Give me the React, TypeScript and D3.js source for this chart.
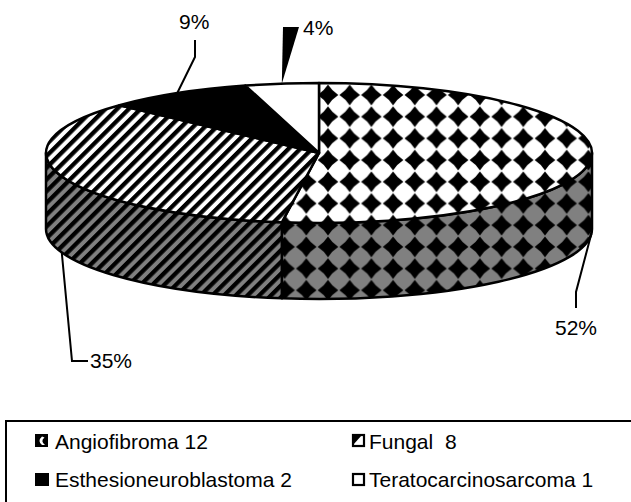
import React from 'react';
import * as d3 from 'd3';

// ---- data ----
const categories = ['Angiofibroma', 'Fungal', 'Esthesioneuroblastoma', 'Teratocarcinosarcoma'];
const counts = [12, 8, 2, 1];
const legendLabels = ['Angiofibroma 12', 'Fungal  8', 'Esthesioneuroblastoma 2', 'Teratocarcinosarcoma 1'];

// ---- layout ----
const W = 631;
const H = 502;
const CX = 319;
const CY = 153;
const RX = 273;
const RY = 70;
const DEPTH = 76;
const FONT = "'Liberation Sans', Arial, sans-serif";

const topFills = ['url(#diamondTop)', 'url(#stripeTop)', '#000', '#fff'];
const sideFills = ['url(#diamondSide)', 'url(#stripeSide)', '#000', '#fff'];

// label positions and leader bends (layout only)
const labelLayout = [
  { x: 576, y: 335, anchor: 'middle', bends: [[576, 292], [576, 308]], onSide: true },
  { x: 90, y: 368, anchor: 'start', bends: [[72, 361], [88, 361]], onSide: true },
  { x: 179, y: 29, anchor: 'start', bends: [[195, 57], [195, 40]], onSide: false },
  { x: 303, y: 35, anchor: 'start', bends: [[283, 27], [299, 27]], onSide: false },
];

const legendLayout = [
  { x: 35, y: 434, tx: 55, ty: 449 },
  { x: 352, y: 434, tx: 369, ty: 449 },
  { x: 35, y: 472, tx: 55, ty: 487 },
  { x: 352, y: 472, tx: 369, ty: 487 },
];

function pt(a: number, dy = 0): [number, number] {
  return [CX + RX * Math.sin(a), CY - RY * Math.cos(a) + dy];
}

export default function App() {
  const pie = d3.pie<number>().sort(null).value((d) => d).startAngle(0).endAngle(2 * Math.PI);
  const arcs = pie(counts);
  const total = d3.sum(counts);
  const fmt = d3.format('.0%');

  const topPath = (a: number, b: number) => {
    const p0 = pt(a);
    const p1 = pt(b);
    const large = b - a > Math.PI ? 1 : 0;
    return `M${CX},${CY}L${p0[0]},${p0[1]}A${RX},${RY} 0 ${large} 1 ${p1[0]},${p1[1]}Z`;
  };
  const sidePath = (a: number, b: number) => {
    const s = Math.max(a, Math.PI / 2);
    const e = Math.min(b, (3 * Math.PI) / 2);
    if (s >= e) return null;
    const p0 = pt(s);
    const p1 = pt(e);
    const q1 = pt(e, DEPTH);
    const q0 = pt(s, DEPTH);
    return `M${p0[0]},${p0[1]}A${RX},${RY} 0 0 1 ${p1[0]},${p1[1]}L${q1[0]},${q1[1]}A${RX},${RY} 0 0 0 ${q0[0]},${q0[1]}Z`;
  };

  const diamond = 'M10.85,0.6 Q14.9,6.8 21.1,10.85 Q14.9,14.9 10.85,21.1 Q6.8,14.9 0.6,10.85 Q6.8,6.8 10.85,0.6Z';

  return (
    <div style={{ position: 'absolute', left: 0, top: 0, width: W, height: H, background: '#fff' }}>
      <svg width={W} height={H} style={{ display: 'block' }} fontFamily={FONT}>
        <defs>
          <pattern id="diamondTop" patternUnits="userSpaceOnUse" x={13.35} y={19.05} width={21.7} height={21.7}>
            <rect width={21.7} height={21.7} fill="#fff" />
            <path d={diamond} fill="#000" />
          </pattern>
          <pattern id="diamondSide" patternUnits="userSpaceOnUse" x={13.35} y={19.05} width={21.7} height={21.7}>
            <rect width={21.7} height={21.7} fill="#808080" />
            <path d={diamond} fill="#000" />
          </pattern>
          <pattern id="stripeTop" patternUnits="userSpaceOnUse" width={8.3} height={8.3} patternTransform="rotate(45)">
            <rect width={8.3} height={8.3} fill="#fff" />
            <rect width={4.3} height={8.3} fill="#000" />
          </pattern>
          <pattern id="stripeSide" patternUnits="userSpaceOnUse" width={8.3} height={8.3} patternTransform="rotate(45)">
            <rect width={8.3} height={8.3} fill="#808080" />
            <rect width={4.3} height={8.3} fill="#000" />
          </pattern>
        </defs>

        {/* side walls */}
        {arcs.map((a, i) => {
          const d = sidePath(a.startAngle, a.endAngle);
          return d ? <path key={'s' + i} d={d} fill={sideFills[i]} stroke="#000" strokeWidth={2.5} strokeLinejoin="round" /> : null;
        })}
        {/* top faces */}
        {arcs.map((a, i) => (
          <path key={'t' + i} d={topPath(a.startAngle, a.endAngle)} fill={topFills[i]} stroke="#000" strokeWidth={2.5} strokeLinejoin="round" />
        ))}

        {/* leaders and labels */}
        {arcs.map((a, i) => {
          const L = labelLayout[i];
          const mid = (a.startAngle + a.endAngle) / 2;
          const anchor = pt(mid, L.onSide ? DEPTH : 0);
          const pct = fmt(counts[i] / total);
          let leader;
          if (i === 3) {
            leader = (
              <polygon points={`${L.bends[0][0]},${L.bends[0][1]} ${L.bends[1][0]},${L.bends[1][1]} ${anchor[0]},${anchor[1]}`} fill="#000" />
            );
          } else {
            const pts = [anchor, ...L.bends];
            leader = <path d={d3.line()(pts as [number, number][]) || ''} fill="none" stroke="#000" strokeWidth={2} />;
          }
          return (
            <g key={'l' + i}>
              {leader}
              <text x={L.x} y={L.y} fontSize={21} textAnchor={L.anchor as any} fill="#000">
                {pct}
              </text>
            </g>
          );
        })}

        {/* legend */}
        <rect x={6} y={421} width={700} height={200} fill="none" stroke="#000" strokeWidth={2} />
        {categories.map((c, i) => {
          const g = legendLayout[i];
          let sym;
          if (i === 0) {
            sym = (
              <g>
                <rect x={g.x} y={g.y} width={13} height={13} fill="#000" />
                <path d={`M${g.x + 7},${g.y + 2.5} Q${g.x + 2},${g.y + 7} ${g.x + 7},${g.y + 11} L${g.x + 10},${g.y + 11} Q${g.x + 5},${g.y + 7} ${g.x + 9.5},${g.y + 3.5} Z`} fill="#fff" />
              </g>
            );
          } else if (i === 1) {
            sym = (
              <g>
                <rect x={g.x + 1} y={g.y + 1} width={11} height={11} fill="#fff" stroke="#000" strokeWidth={2.2} />
                <polygon points={`${g.x + 1},${g.y + 1} ${g.x + 10},${g.y + 1} ${g.x + 1},${g.y + 11}`} fill="#000" />
              </g>
            );
          } else if (i === 2) {
            sym = <rect x={g.x} y={g.y + 1} width={14} height={13} fill="#000" />;
          } else {
            sym = <rect x={g.x + 1} y={g.y + 2} width={11} height={11} fill="#fff" stroke="#000" strokeWidth={2.2} />;
          }
          return (
            <g key={'lg' + i}>
              {sym}
              <text x={g.tx} y={g.ty} fontSize={21} fill="#000" style={{ whiteSpace: 'pre' }}>
                {legendLabels[i]}
              </text>
            </g>
          );
        })}
      </svg>
    </div>
  );
}
